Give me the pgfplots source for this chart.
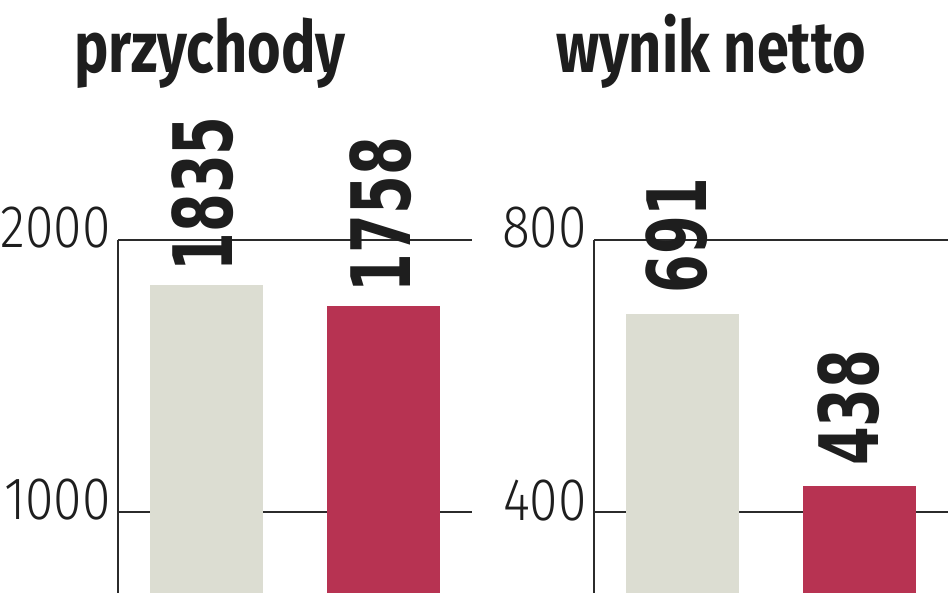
\documentclass[border=0pt]{standalone}
\usepackage{fontspec}
\usepackage{pgfplots}
\pgfplotsset{compat=1.18}
\setmainfont{Fira Sans}
\newfontfamily\titlefont{Fira Sans}[FakeStretch=0.8]
\newfontfamily\tickfont{Fira Sans Light}[FakeStretch=0.86]
\newfontfamily\valfont{DejaVu Sans}[FakeStretch=0.68]

\definecolor{barg}{HTML}{DCDDD2}
\definecolor{barr}{HTML}{B73352}
\definecolor{linec}{HTML}{2B2B2B}
\definecolor{txt}{HTML}{1E1E1E}

\pgfplotsset{
  /pgf/number format/.cd, assume math mode=true, 1000 sep={},
  /pgfplots/.cd,
  panel/.style={
    scale only axis, width=177pt, height=176.5pt,
    anchor=south west,
    xmin=0.5, xmax=2.5,
    axis x line=none, axis y line*=left,
    axis line style={line width=0.75pt, color=linec},
    ymajorgrids, grid style={line width=0.75pt, color=linec},
    major tick length=0pt,
    yticklabel style={font=\tickfont\fontsize{30}{31}\selectfont, text=txt,
      anchor=east, inner sep=0pt, xshift=-3.5pt, yshift=6pt},
    ybar, bar width=0.64, bar shift=0pt,
    clip=false,
    nodes near coords,
    nodes near coords style={font=\valfont\bfseries\fontsize{41}{42}\selectfont,
      text=txt, inner sep=0pt},
  },
  vlab/.style 2 args={nodes near coords style={xshift=#1, yshift=#2, rotate=90, anchor=west}},
}

\begin{document}
\begin{tikzpicture}
\useasboundingbox (0,0) rectangle (474pt,296.5pt);

% przychody
\begin{axis}[panel, at={(59pt,0pt)}, ymin=702, ymax=2000, ytick={1000,2000}]
\addplot[fill=barg, draw=none, vlab={-1.75pt}{6.5pt}] coordinates {(1,1835)};
\addplot[fill=barr, draw=none, vlab={-1.5pt}{6.5pt}] coordinates {(2,1758)};
\end{axis}

% wynik netto
\begin{axis}[panel, at={(297pt,0pt)}, ymin=281, ymax=800, ytick={400,800}]
\addplot[fill=barg, draw=none, vlab={-3pt}{10pt}] coordinates {(1,691)};
\addplot[fill=barr, draw=none, vlab={-5.5pt}{10pt}] coordinates {(2,438)};
\end{axis}

\node[anchor=base, inner sep=0pt, text=txt, font=\titlefont\bfseries\fontsize{36}{38}\selectfont]
  at (105pt,260pt) {przychody};
\node[anchor=base, inner sep=0pt, text=txt, font=\titlefont\bfseries\fontsize{36}{38}\selectfont]
  at (355.5pt,260pt) {wynik netto};
\end{tikzpicture}
\end{document}
